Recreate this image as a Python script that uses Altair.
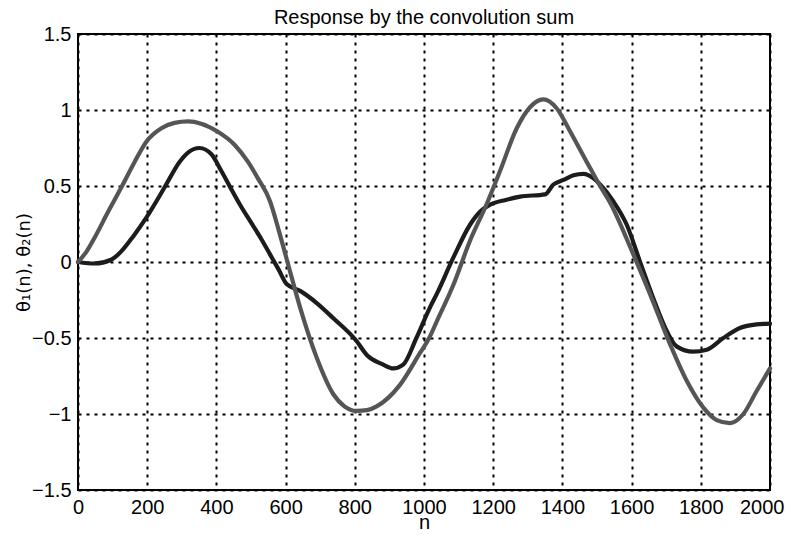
import altair as alt
import pandas as pd

# theta_1(n): black curve
n1 = [0, 48, 96, 125, 160, 197, 250, 294, 318, 351, 385, 414, 438, 470, 500, 530, 555, 580, 603,
      642, 690, 738, 805, 834, 882, 911, 940, 978, 1017, 1037, 1085, 1133, 1162, 1191, 1239, 1278,
      1350, 1374, 1403, 1432, 1461, 1490, 1509, 1547, 1586, 1624, 1663, 1702, 1730, 1778, 1817,
      1865, 1913, 1961, 2000]
theta1 = [0.0, -0.01, 0.015, 0.07, 0.17, 0.29, 0.49, 0.66, 0.72, 0.75, 0.71, 0.60, 0.50, 0.37,
          0.26, 0.15, 0.05, -0.05, -0.145, -0.19, -0.27, -0.37, -0.52, -0.61, -0.675, -0.70,
          -0.675, -0.50, -0.30, -0.21, 0.03, 0.245, 0.33, 0.377, 0.41, 0.43, 0.445, 0.51, 0.54,
          0.57, 0.58, 0.55, 0.51, 0.40, 0.245, 0.004, -0.24, -0.456, -0.555, -0.59, -0.577,
          -0.50, -0.434, -0.41, -0.405]

# theta_2(n): gray curve
n2 = [0, 25, 48, 87, 125, 164, 197, 241, 279, 318, 356, 402, 453, 491, 520, 555, 580, 603, 642,
      690, 738, 770, 805, 835, 863, 930, 988, 1015, 1037, 1085, 1133, 1181, 1220, 1268, 1307,
      1345, 1384, 1422, 1470, 1509, 1538, 1605, 1653, 1711, 1760, 1808, 1846, 1884, 1923, 1961,
      2000]
theta2 = [0.0, 0.07, 0.16, 0.33, 0.49, 0.66, 0.79, 0.88, 0.915, 0.925, 0.91, 0.86, 0.77, 0.66,
          0.55, 0.40, 0.21, 0.02, -0.30, -0.63, -0.87, -0.95, -0.98, -0.975, -0.95, -0.81, -0.60,
          -0.50, -0.39, -0.15, 0.14, 0.38, 0.60, 0.88, 1.02, 1.07, 1.01, 0.86, 0.66, 0.50, 0.39,
          0.05, -0.21, -0.54, -0.785, -0.96, -1.04, -1.06, -1.00, -0.85, -0.70]

x_ticks = [0, 200, 400, 600, 800, 1000, 1200, 1400, 1600, 1800, 2000]
y_ticks = [-1.5, -1, -0.5, 0, 0.5, 1, 1.5]
title_text = ["Response by the convolution sum"]

df1 = pd.DataFrame({"n": n1, "v": theta1})
df2 = pd.DataFrame({"n": n2, "v": theta2})
dft = pd.DataFrame({"t": title_text})

FONT = "Liberation Sans"
W, H = 692, 456

x_enc = alt.X("n:Q", scale=alt.Scale(domain=[0, 2000], nice=False),
              axis=alt.Axis(values=x_ticks, format="d", title="n", grid=True,
                            labelAlign={"condition": {"test": "datum.value == 2000", "value": "right"},
                                        "value": "center"},
                            labelOffset={"condition": {"test": "datum.value == 2000", "value": 14},
                                         "value": 0}))
y_enc = alt.Y("v:Q", scale=alt.Scale(domain=[-1.5, 1.5], nice=False),
              axis=alt.Axis(values=y_ticks, format="~g", title="θ₁(n), θ₂(n)", grid=True))

black = alt.Chart(df1).mark_line(color="#1c1c1c", strokeWidth=4.2, strokeJoin="round",
                                 strokeCap="round", interpolate="monotone").encode(x=x_enc, y=y_enc)
gray = alt.Chart(df2).mark_line(color="#555555", strokeWidth=4.2, strokeJoin="round",
                                strokeCap="round", interpolate="monotone").encode(x=x_enc, y=y_enc)

title = alt.Chart(dft).mark_text(font=FONT, fontSize=20, color="black", align="center",
                                 baseline="alphabetic").encode(
    text="t:N", x=alt.value(W / 2), y=alt.value(-10))

chart = alt.layer(black, gray, title).properties(
    width=W, height=H,
    autosize=alt.AutoSizeParams(type="none"),
    padding={"left": 70, "top": 26, "right": 15, "bottom": 40},
).configure_view(
    stroke="black", strokeWidth=2
).configure_axis(
    domain=False, ticks=False, labelFlush=False,
    gridColor="black", gridDash=[3, 5], gridWidth=2, gridOpacity=1,
    labelFont=FONT, labelFontSize=20, labelColor="black",
    titleFont=FONT, titleFontSize=20, titleFontWeight="normal", titleColor="black",
).configure_axisX(
    labelPadding=7, titlePadding=-5
).configure_axisY(
    labelPadding=7, titlePadding=-2, titleFont="DejaVu Sans", titleFontSize=18
)

chart.save("out.html", embed_options={"renderer": "svg", "actions": False})
